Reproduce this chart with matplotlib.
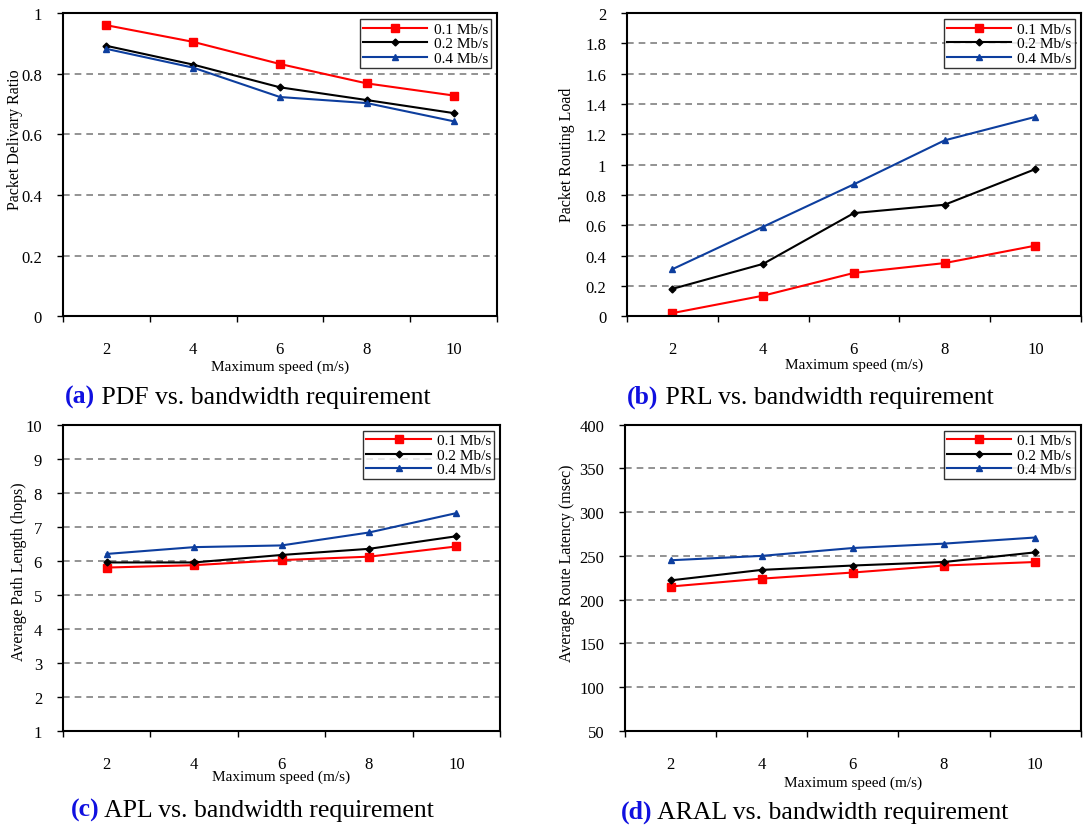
import numpy as np
import matplotlib.pyplot as plt

plt.rcParams['font.family'] = ['Liberation Serif', 'DejaVu Serif']

speeds = ['2', '4', '6', '8', '10']
series = ['0.1 Mb/s', '0.2 Mb/s', '0.4 Mb/s']

pdf_01 = [0.960, 0.905, 0.832, 0.768, 0.728]
pdf_02 = [0.892, 0.830, 0.755, 0.713, 0.670]
pdf_04 = [0.882, 0.820, 0.723, 0.703, 0.643]

prl_01 = [0.02, 0.135, 0.285, 0.35, 0.465]
prl_02 = [0.18, 0.345, 0.68, 0.735, 0.97]
prl_04 = [0.31, 0.59, 0.87, 1.16, 1.315]

apl_01 = [5.80, 5.87, 6.02, 6.12, 6.42]
apl_02 = [5.95, 5.95, 6.17, 6.35, 6.72]
apl_04 = [6.20, 6.40, 6.45, 6.83, 7.40]

aral_01 = [215, 224, 231, 239, 243]
aral_02 = [222, 234, 239, 243, 254]
aral_04 = [245, 250, 259, 264, 271]

styles = [dict(color='#ff0000', marker='s', ms=6),
          dict(color='#000000', marker='D', ms=3.5),
          dict(color='#0d3e9e', marker='^', ms=5)]

fig = plt.figure(figsize=(10.85, 8.28), dpi=100)

# rect, data, ylim, yticks, ylabel, tag, caption, caption pos, xlabel pad, ylabel coords
panels = [
    ([0.058, 0.617, 0.400, 0.366], [pdf_01, pdf_02, pdf_04], (0, 1), np.arange(0, 1.01, 0.2),
     'Packet Delivary Ratio', '(a)', ' PDF vs. bandwidth requirement', (0.060, 1 - 397 / 828),
     1.5, (-0.092, 0.587)),
    ([0.578, 0.617, 0.418, 0.366], [prl_01, prl_02, prl_04], (0, 2), np.arange(0, 2.01, 0.2),
     'Packet Routing Load', '(b)', ' PRL vs. bandwidth requirement', (0.578, 1 - 397 / 828),
     0.5, (-0.115, 0.536)),
    ([0.058, 0.116, 0.403, 0.370], [apl_01, apl_02, apl_04], (1, 10), np.arange(1, 10.1, 1),
     'Average Path Length (hops)', '(c)', ' APL vs. bandwidth requirement', (0.065, 1 - 810 / 828),
     -2, (-0.082, 0.523)),
    ([0.576, 0.116, 0.420, 0.370], [aral_01, aral_02, aral_04], (50, 400), np.arange(50, 401, 50),
     'Average Route Latency (msec)', '(d)', ' ARAL vs. bandwidth requirement', (0.572, 1 - 812 / 828),
     2.5, (-0.110, 0.552)),
]

x = np.arange(1, len(speeds) + 1)
for rect, data, ylim, yticks, ylabel, tag, caption, cpos, xlpad, ylpos in panels:
    ax = fig.add_axes(rect)
    for vals, name, st in zip(data, series, styles):
        ax.plot(x, vals, label=name, lw=1.5, color=st['color'], marker=st['marker'],
                ms=st['ms'], mec=st['color'], mfc=st['color'])
    ax.set_xlim(0.5, len(speeds) + 0.5)
    ax.set_ylim(*ylim)
    ax.set_yticks(yticks)
    ax.set_yticklabels(['%g' % v for v in yticks])
    # category boundaries carry the tick marks, labels sit at the centres
    ax.set_xticks(np.arange(0.5, len(speeds) + 1, 1))
    ax.set_xticklabels([])
    ax.set_xticks(x, minor=True)
    ax.set_xticklabels(speeds, minor=True)
    ax.tick_params(axis='x', which='major', direction='out', length=4, width=1)
    ax.tick_params(axis='x', which='minor', length=0, pad=18, labelsize=12)
    ax.tick_params(axis='y', direction='out', length=4, width=1, labelsize=12, pad=11)
    for sp in ax.spines.values():
        sp.set_linewidth(1.5)
    ax.yaxis.grid(True, linestyle='--', color='#808080', lw=1.2, dashes=(4, 3))
    ax.set_axisbelow(True)
    ax.set_xlabel('Maximum speed (m/s)', fontsize=11, labelpad=xlpad)
    ax.set_ylabel(ylabel, fontsize=11.5)
    ax.yaxis.set_label_coords(*ylpos)
    leg = ax.legend(loc='upper right', fontsize=11, frameon=True, fancybox=False,
                    borderaxespad=0.4, handlelength=4.2, borderpad=0.2,
                    labelspacing=0.05, handletextpad=0.4)
    leg.get_frame().set_edgecolor('black')
    leg.get_frame().set_linewidth(1.0)
    t = fig.text(cpos[0], cpos[1], tag, color='#1010e0', fontweight='bold',
                 fontsize=18.5, va='center', ha='left')
    ax.annotate(caption, xy=(1, 0), xycoords=t, va='bottom', ha='left',
                fontsize=18.5, annotation_clip=False)

fig.savefig('out.png', dpi=100)
